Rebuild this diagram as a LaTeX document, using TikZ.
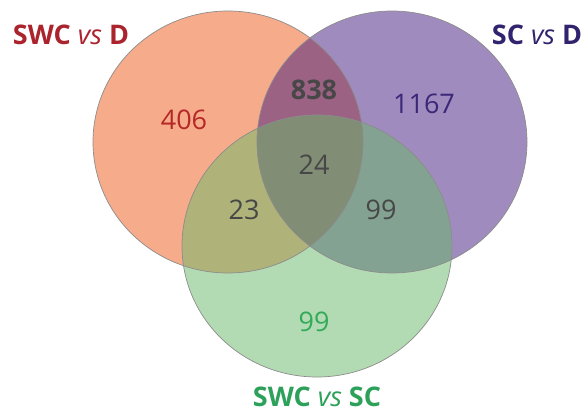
\documentclass[tikz,border=0pt]{standalone}
\usepackage{fontspec}
\setmainfont{Open Sans}
\newcommand{\versus}{\textit{\mdseries vs}}
\definecolor{swcd}{RGB}{246,172,138}
\definecolor{scd}{RGB}{65,25,125}
\definecolor{swcsc}{RGB}{105,185,105}

\begin{document}
\begin{tikzpicture}[x=1pt, y=-1pt]
  \tikzset{set/.style={draw=black!45, line width=0.7pt},
    count/.style={font=\fontsize{27}{30}\selectfont, text=black!72},
    title/.style={font=\fontsize{27}{30}\selectfont\bfseries, inner sep=1pt}}
  \useasboundingbox (0,0) rectangle (587,415);
  \fill[white] (0,0) rectangle (587,415);
  % the three sets
  \fill[swcd] (228,142) ellipse [x radius=135, y radius=131];
  \fill[scd, fill opacity=0.5] (392,142) ellipse [x radius=135, y radius=131];
  \fill[swcsc, fill opacity=0.5] (317,246) ellipse [x radius=135, y radius=131];
  \draw[set] (228,142) ellipse [x radius=135, y radius=131];
  \draw[set] (392,142) ellipse [x radius=135, y radius=131];
  \draw[set] (317,246) ellipse [x radius=135, y radius=131];
  % titles
  \node[title, text={rgb,255:red,170;green,35;blue,45}] (swcdT) at (71,35) {SWC \versus{} D};
  \node[title, text={rgb,255:red,50;green,35;blue,110}] (scdT) at (537,35) {SC \versus{} D};
  \node[title, text={rgb,255:red,45;green,160;blue,90}] (swcscT) at (317,397) {SWC \versus{} SC};
  % counts
  \node[count, text={rgb,255:red,180;green,40;blue,40}] (onlyA) at (184,120) {406};
  \node[count, text={rgb,255:red,60;green,40;blue,120}] (onlyB) at (424,104) {1167};
  \node[count, text={rgb,255:red,50;green,170;blue,90}] (onlyC) at (314,322) {99};
  \node[count, font=\fontsize{27}{30}\selectfont\bfseries] (AB) at (314,90) {838};
  \node[count] (ABC) at (314,165) {24};
  \node[count] (AC) at (244,210) {23};
  \node[count] (BC) at (381,210) {99};
\end{tikzpicture}
\end{document}
